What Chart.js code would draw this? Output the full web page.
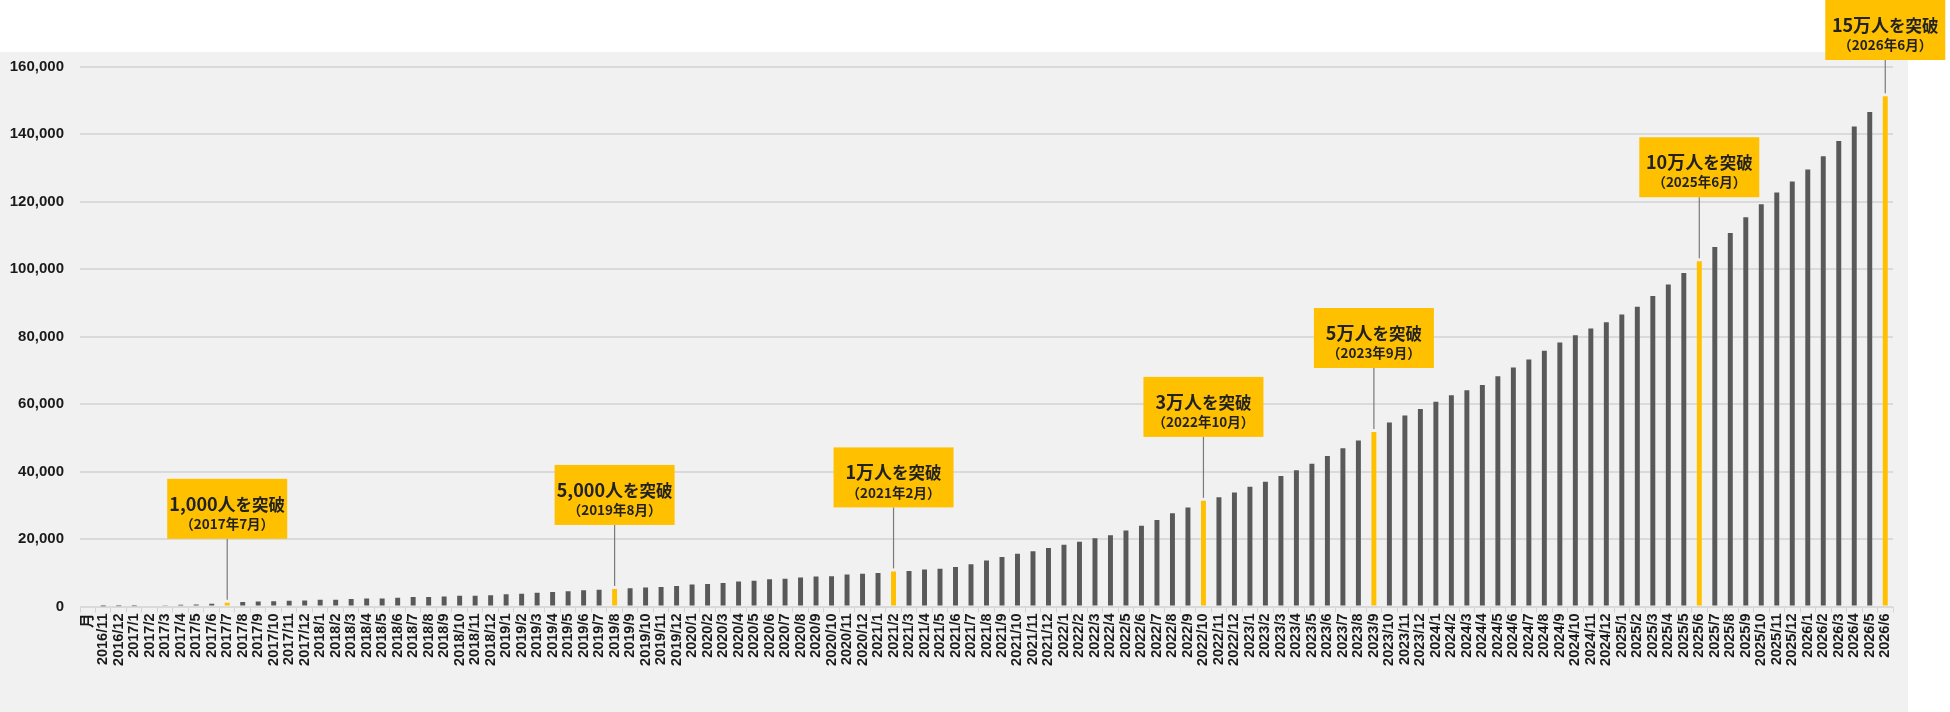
<!DOCTYPE html>
<html lang="ja">
<head>
<meta charset="utf-8">
<title>会員数の推移</title>
<script src="https://cdn.jsdelivr.net/npm/chart.js@4.4.1/dist/chart.umd.min.js"></script>
<style>
  html, body { margin: 0; padding: 0; background: #fff; }
  #wrap { position: relative; width: 1950px; height: 712px; overflow: hidden; }
  #panel { position: absolute; left: 0; top: 52px; width: 1908px; height: 660px; background: #f1f1f1; }
  #chart { position: absolute; left: 0; top: 0; }
</style>
</head>
<body>
<div id="wrap">
  <div id="panel"></div>
  <canvas id="chart" width="1950" height="712"></canvas>
</div>
<script>
// カテゴリ（先頭は見出しの「月」）
const months = [
  "月",
  "2016/11", "2016/12",
  "2017/1", "2017/2", "2017/3", "2017/4", "2017/5", "2017/6", "2017/7", "2017/8", "2017/9", "2017/10", "2017/11", "2017/12",
  "2018/1", "2018/2", "2018/3", "2018/4", "2018/5", "2018/6", "2018/7", "2018/8", "2018/9", "2018/10", "2018/11", "2018/12",
  "2019/1", "2019/2", "2019/3", "2019/4", "2019/5", "2019/6", "2019/7", "2019/8", "2019/9", "2019/10", "2019/11", "2019/12",
  "2020/1", "2020/2", "2020/3", "2020/4", "2020/5", "2020/6", "2020/7", "2020/8", "2020/9", "2020/10", "2020/11", "2020/12",
  "2021/1", "2021/2", "2021/3", "2021/4", "2021/5", "2021/6", "2021/7", "2021/8", "2021/9", "2021/10", "2021/11", "2021/12",
  "2022/1", "2022/2", "2022/3", "2022/4", "2022/5", "2022/6", "2022/7", "2022/8", "2022/9", "2022/10", "2022/11", "2022/12",
  "2023/1", "2023/2", "2023/3", "2023/4", "2023/5", "2023/6", "2023/7", "2023/8", "2023/9", "2023/10", "2023/11", "2023/12",
  "2024/1", "2024/2", "2024/3", "2024/4", "2024/5", "2024/6", "2024/7", "2024/8", "2024/9", "2024/10", "2024/11", "2024/12",
  "2025/1", "2025/2", "2025/3", "2025/4", "2025/5", "2025/6", "2025/7", "2025/8", "2025/9", "2025/10", "2025/11", "2025/12",
  "2026/1", "2026/2", "2026/3", "2026/4", "2026/5", "2026/6",
];

// 会員数（人）
const members = [
  null,
  20, 50,
  90, 300, 400, 500, 600, 800, 1100, 1300, 1500, 1550, 1700, 1800,
  2000, 2000, 2200, 2400, 2400, 2600, 2800, 2800, 3000, 3200, 3200, 3300,
  3600, 3800, 4100, 4300, 4500, 4800, 4950, 5200, 5400, 5600, 5800, 6100,
  6500, 6700, 7000, 7400, 7600, 8100, 8200, 8600, 8900, 9000, 9500, 9700,
  9900, 10400, 10500, 11000, 11200, 11700, 12500, 13600, 14700, 15600, 16400, 17300,
  18300, 19200, 20200, 21100, 22500, 23900, 25600, 27600, 29300, 31300, 32400, 33800,
  35500, 37000, 38700, 40400, 42300, 44600, 46900, 49200, 51700, 54500, 56600, 58500,
  60700, 62600, 64100, 65600, 68200, 70800, 73200, 75800, 78200, 80400, 82400, 84200,
  86500, 88800, 92000, 95400, 98800, 102300, 106500, 110700, 115300, 119200, 122700, 125900,
  129500, 133400, 137900, 142200, 146500, 151200,
];

// 節目
const milestoneMonths = ["2017/7", "2019/8", "2021/2", "2022/10", "2023/9", "2025/6", "2026/6"];
const milestoneCounts = ["1,000人", "5,000人", "1万人", "3万人", "5万人", "10万人", "15万人"];
const milestoneDates = ["（2017年7月）", "（2019年8月）", "（2021年2月）", "（2022年10月）", "（2023年9月）", "（2025年6月）", "（2026年6月）"];

const yTicks = [0, 20000, 40000, 60000, 80000, 100000, 120000, 140000, 160000];

const GOLD = "#FFC000";
const GRAY = "#595959";
const CJK = '"Noto Sans CJK JP", "Noto Sans", sans-serif';

const barColors = months.map((m) => (milestoneMonths.includes(m) ? GOLD : GRAY));

const milestonePlugin = {
  id: "milestones",
  afterDatasetsDraw(chart) {
    const ctx = chart.ctx;
    const meta = chart.getDatasetMeta(0);
    const boxW = 120, boxH = 60, gap = 64;

    milestoneMonths.forEach((m, i) => {
      const bar = meta.data[months.indexOf(m)];
      if (!bar) return;
      const x = bar.x;
      let top = bar.y - gap - boxH;
      if (top < 0) top = 0;
      const bottom = top + boxH;

      ctx.save();
      // 引き出し線
      ctx.strokeStyle = "#7a7a7a";
      ctx.lineWidth = 1.2;
      ctx.beginPath();
      ctx.moveTo(x, bottom);
      ctx.lineTo(x, bar.y - 3);
      ctx.stroke();

      // 箱
      ctx.fillStyle = GOLD;
      ctx.fillRect(x - boxW / 2, top, boxW, boxH);

      // 見出し（数字部分をやや大きく）
      ctx.fillStyle = "#222";
      ctx.textBaseline = "middle";
      const bigFont = "bold 18px " + CJK;
      const smallFont = "bold 16.5px " + CJK;
      ctx.font = bigFont;
      const w1 = ctx.measureText(milestoneCounts[i]).width;
      ctx.font = smallFont;
      const w2 = ctx.measureText("を突破").width;
      const tx = x - (w1 + w2) / 2;
      ctx.textAlign = "left";
      ctx.font = bigFont;
      ctx.fillText(milestoneCounts[i], tx, top + 25);
      ctx.font = smallFont;
      ctx.fillText("を突破", tx + w1, top + 25.5);

      // 日付
      ctx.textAlign = "center";
      ctx.font = "bold 13.5px " + CJK;
      ctx.fillText(milestoneDates[i], x, top + 45);
      ctx.restore();
    });
  },
};

new Chart(document.getElementById("chart"), {
  type: "bar",
  data: {
    labels: months,
    datasets: [
      {
        label: "会員数",
        data: members,
        backgroundColor: barColors,
        barPercentage: 0.32,
        categoryPercentage: 1.0,
      },
    ],
  },
  options: {
    responsive: false,
    animation: false,
    devicePixelRatio: 1,
    layout: { padding: { top: 66.5, right: 57, left: 0, bottom: 0 } },
    plugins: {
      legend: { display: false },
      tooltip: { enabled: false },
    },
    scales: {
      x: {
        grid: {
          display: true,
          offset: true,
          drawOnChartArea: false,
          drawTicks: true,
          tickLength: 6,
          color: "#d4d4d4",
          lineWidth: 1,
        },
        border: { display: false },
        ticks: {
          autoSkip: false,
          minRotation: 90,
          maxRotation: 90,
          padding: 1,
          color: "#1a1a1a",
          font: { family: '"Liberation Sans", Arial, ' + CJK, size: 14.5, weight: "bold" },
        },
        afterFit(scale) {
          scale.height = 105.5;
        },
      },
      y: {
        min: 0,
        max: 160000,
        afterBuildTicks(scale) {
          scale.ticks = yTicks.map((v) => ({ value: v }));
        },
        grid: { color: "#dadada", lineWidth: 2, drawTicks: false },
        border: { display: false },
        ticks: {
          padding: 16,
          color: "#1a1a1a",
          font: { family: '"Liberation Sans", Arial, sans-serif', size: 15, weight: "bold" },
          callback: (v) => v.toLocaleString("en-US"),
        },
        afterFit(scale) {
          scale.width = 80;
        },
      },
    },
  },
  plugins: [milestonePlugin],
});
</script>
</body>
</html>
